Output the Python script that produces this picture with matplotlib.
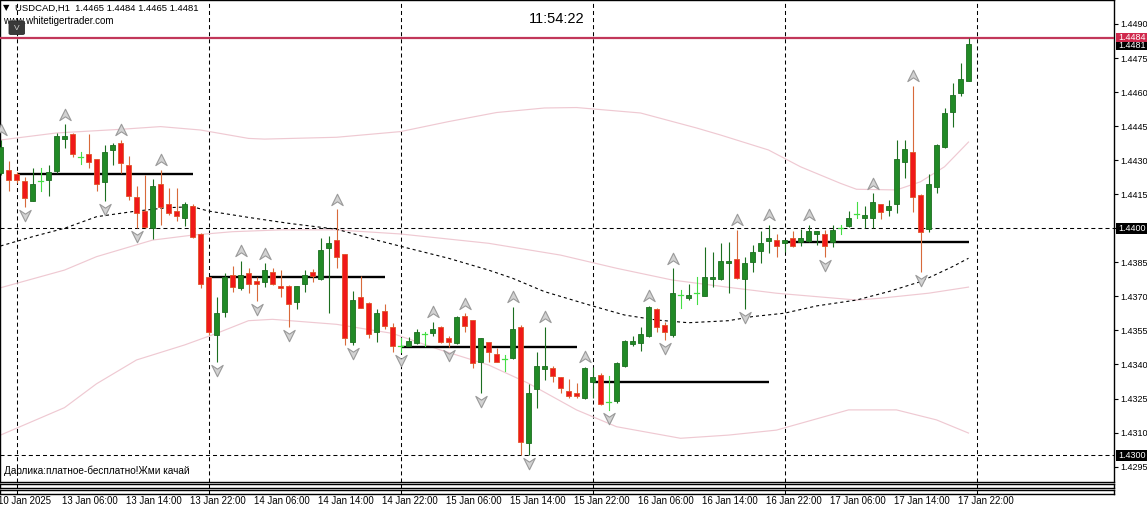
import matplotlib
matplotlib.use('Agg')
import matplotlib.pyplot as plt
import matplotlib.transforms as mtransforms
from matplotlib.path import Path
from matplotlib.patches import Rectangle, FancyBboxPatch
from matplotlib import font_manager

# ---------------- data ----------------
symbol_header = "USDCAD,H1  1.4465 1.4484 1.4465 1.4481"
site_text = "www.whitetigertrader.com"
clock_text = "11:54:22"
bottom_text = "Дарлика:платное-бесплатно!Жми качай"

opens = [1.44245, 1.44257, 1.44239, 1.44208, 1.44122, 1.44210, 1.44213, 1.44252, 1.44395, 1.44415,
         1.44315, 1.44327, 1.44304, 1.44205, 1.44345, 1.44377, 1.44279, 1.44137, 1.44076, 1.44003,
         1.44195, 1.44107, 1.44076, 1.44044, 1.44098, 1.43975, 1.43784, 1.43530, 1.43633, 1.43794,
         1.43736, 1.43805, 1.43768, 1.43765, 1.43806, 1.43746, 1.43746, 1.43674, 1.43753, 1.43809,
         1.43775, 1.43915, 1.43948, 1.43885, 1.43500, 1.43696, 1.43670, 1.43542, 1.43636, 1.43567,
         1.43483, 1.43483, 1.43493, 1.43534, 1.43540, 1.43567, 1.43518, 1.43493, 1.43614, 1.43596,
         1.43412, 1.43500, 1.43446, 1.43423, 1.43430, 1.43567, 1.43053, 1.43292, 1.43380, 1.43383,
         1.43344, 1.43283, 1.43276, 1.43251, 1.43322, 1.43354, 1.43236, 1.43239, 1.43393, 1.43490,
         1.43493, 1.43526, 1.43644, 1.43574, 1.43530, 1.43706, 1.43694, 1.43714, 1.43703, 1.43775,
         1.43775, 1.43846, 1.43863, 1.43775, 1.43853, 1.43901, 1.43945, 1.43948, 1.43934, 1.43956,
         1.43938, 1.43944, 1.43974, 1.43975, 1.43938, 1.44000, 1.44010, 1.44062, 1.44044, 1.44044,
         1.44106, 1.44081, 1.44106, 1.44293, 1.44335, 1.44147, 1.43996, 1.44183, 1.44357, 1.44514,
         1.44595, 1.44650]
highs = [1.44389, 1.44296, 1.44248, 1.44225, 1.44264, 1.44266, 1.44279, 1.44419, 1.44459, 1.44419,
         1.44337, 1.44415, 1.44305, 1.44367, 1.44374, 1.44389, 1.44319, 1.44186, 1.44235, 1.44217,
         1.44257, 1.44176, 1.44176, 1.44117, 1.44106, 1.43978, 1.43787, 1.43699, 1.43804, 1.43834,
         1.43856, 1.43824, 1.43787, 1.43846, 1.43824, 1.43816, 1.43750, 1.43746, 1.43816, 1.43819,
         1.43956, 1.43966, 1.44084, 1.43885, 1.43724, 1.43791, 1.43677, 1.43643, 1.43667, 1.43584,
         1.43515, 1.43522, 1.43555, 1.43544, 1.43589, 1.43570, 1.43527, 1.43614, 1.43626, 1.43596,
         1.43515, 1.43500, 1.43471, 1.43442, 1.43655, 1.43574, 1.43314, 1.43456, 1.43567, 1.43393,
         1.43347, 1.43336, 1.43317, 1.43390, 1.43390, 1.43361, 1.43351, 1.43412, 1.43506, 1.43527,
         1.43567, 1.43658, 1.43647, 1.43589, 1.43824, 1.43728, 1.43753, 1.43784, 1.43919, 1.43897,
         1.43937, 1.43941, 1.43993, 1.43875, 1.43926, 1.43989, 1.44015, 1.43975, 1.43950, 1.43989,
         1.43996, 1.44015, 1.43990, 1.43993, 1.44015, 1.44015, 1.44076, 1.44117, 1.44098, 1.44154,
         1.44106, 1.44125, 1.44389, 1.44389, 1.44627, 1.44150, 1.44238, 1.44370, 1.44529, 1.44641,
         1.44730, 1.44840]
lows = [1.44235, 1.44166, 1.44200, 1.44095, 1.44120, 1.44166, 1.44144, 1.44242, 1.44355, 1.44315,
        1.44283, 1.44264, 1.44166, 1.44120, 1.44279, 1.44245, 1.44125, 1.44001, 1.44000, 1.43952,
        1.44015, 1.44059, 1.44033, 1.44010, 1.43956, 1.43736, 1.43530, 1.43412, 1.43611, 1.43721,
        1.43730, 1.43714, 1.43681, 1.43743, 1.43750, 1.43696, 1.43567, 1.43643, 1.43721, 1.43765,
        1.43772, 1.43626, 1.43824, 1.43486, 1.43486, 1.43648, 1.43515, 1.43500, 1.43555, 1.43454,
        1.43454, 1.43480, 1.43490, 1.43483, 1.43527, 1.43496, 1.43478, 1.43490, 1.43542, 1.43383,
        1.43273, 1.43412, 1.43410, 1.43373, 1.43423, 1.43001, 1.43001, 1.43210, 1.43332, 1.43322,
        1.43273, 1.43251, 1.43251, 1.43248, 1.43251, 1.43222, 1.43200, 1.43232, 1.43390, 1.43483,
        1.43461, 1.43523, 1.43542, 1.43508, 1.43523, 1.43649, 1.43684, 1.43665, 1.43700, 1.43743,
        1.43772, 1.43714, 1.43775, 1.43644, 1.43806, 1.43846, 1.43893, 1.43875, 1.43897, 1.43919,
        1.43922, 1.43941, 1.43926, 1.43875, 1.43916, 1.43975, 1.44007, 1.44044, 1.44003, 1.44003,
        1.44041, 1.44056, 1.44066, 1.44223, 1.44073, 1.43806, 1.43985, 1.44154, 1.44355, 1.44445,
        1.44584, 1.44650]
closes = [1.44360, 1.44213, 1.44213, 1.44135, 1.44195, 1.44210, 1.44247, 1.44407, 1.44407, 1.44326,
          1.44315, 1.44293, 1.44194, 1.44337, 1.44367, 1.44286, 1.44144, 1.44066, 1.44007, 1.44186,
          1.44095, 1.44066, 1.44056, 1.44107, 1.43963, 1.43753, 1.43542, 1.43628, 1.43784, 1.43743,
          1.43794, 1.43755, 1.43753, 1.43816, 1.43753, 1.43736, 1.43665, 1.43746, 1.43794, 1.43790,
          1.43904, 1.43937, 1.43875, 1.43515, 1.43684, 1.43650, 1.43533, 1.43626, 1.43571, 1.43483,
          1.43483, 1.43504, 1.43544, 1.43534, 1.43556, 1.43500, 1.43500, 1.43608, 1.43571, 1.43405,
          1.43515, 1.43455, 1.43412, 1.43423, 1.43555, 1.43060, 1.43273, 1.43393, 1.43393, 1.43351,
          1.43295, 1.43263, 1.43263, 1.43383, 1.43344, 1.43225, 1.43236, 1.43405, 1.43504, 1.43504,
          1.43534, 1.43655, 1.43564, 1.43542, 1.43714, 1.43706, 1.43706, 1.43714, 1.43784, 1.43784,
          1.43856, 1.43856, 1.43780, 1.43846, 1.43894, 1.43934, 1.43956, 1.43923, 1.43948, 1.43922,
          1.43956, 1.43988, 1.43988, 1.43923, 1.43993, 1.44000, 1.44044, 1.44062, 1.44059, 1.44115,
          1.44073, 1.44098, 1.44304, 1.44349, 1.44137, 1.43985, 1.44195, 1.44367, 1.44509, 1.44587,
          1.44656, 1.44810]

# fractal bars (index of bar)
fractal_up = [0, 8, 15, 20, 30, 33, 42, 54, 58, 64, 68, 73, 81, 84, 92, 96, 101, 109, 114]
fractal_down = [3, 13, 17, 27, 32, 36, 44, 50, 56, 60, 66, 76, 83, 93, 103, 115]

# moving average (dashed) read at bar indices
ma_x = [0, 4, 8, 12, 17, 21, 24, 26, 31, 36, 42, 47, 51, 56, 61, 64, 68, 74, 78, 82, 86, 91, 94, 98, 102, 107, 111, 115, 119, 121]
ma_y = [1.43922, 1.43963, 1.44000, 1.44051, 1.44076, 1.44091, 1.44095, 1.44076, 1.44048, 1.44022,
        1.43996, 1.43948, 1.43912, 1.43868, 1.43816, 1.43780, 1.43721, 1.43658, 1.43618, 1.43596,
        1.43584, 1.43593, 1.43611, 1.43626, 1.43658, 1.43684, 1.43721, 1.43765, 1.43831, 1.43868]

# Bollinger bands read at bar indices
bb_up_x = [0, 7, 15, 20, 25, 31, 33, 42, 50, 56, 62, 68, 72, 80, 87, 90, 96, 100, 105, 107, 112, 115, 118, 121]
bb_up_y = [1.44389, 1.44420, 1.44436, 1.44448, 1.44433, 1.44396, 1.44393, 1.44401, 1.44426, 1.44470,
           1.44510, 1.44530, 1.44532, 1.44508, 1.44442, 1.44411, 1.44345, 1.44271, 1.44198, 1.44172,
           1.44169, 1.44205, 1.44271, 1.44380]
bb_mid_x = [0, 8, 12, 19, 24, 29, 35, 42, 50, 61, 70, 77, 84, 91, 97, 107, 110, 116, 121]
bb_mid_y = [1.43738, 1.43816, 1.43875, 1.43948, 1.43970, 1.43985, 1.43993, 1.43993, 1.43975, 1.43934,
            1.43882, 1.43824, 1.43772, 1.43740, 1.43714, 1.43684, 1.43692, 1.43714, 1.43741]
bb_lo_x = [0, 8, 12, 17, 23, 27, 31, 34, 42, 49, 55, 61, 66, 72, 77, 85, 91, 97, 106, 112, 117, 121]
bb_lo_y = [1.43089, 1.43210, 1.43315, 1.43420, 1.43486, 1.43537, 1.43593, 1.43599, 1.43577, 1.43537,
           1.43464, 1.43398, 1.43317, 1.43200, 1.43126, 1.43075, 1.43089, 1.43111, 1.43200, 1.43200,
           1.43156, 1.43098]

# daily open levels: (start bar, end bar, price)
day_start = [2, 26, 50, 74, 98]
day_end = [24, 48, 72, 96, 121]
day_open = [1.44240, 1.43786, 1.43478, 1.43324, 1.43938]

# horizontal lines
red_level = 1.4484
bid_level = 1.4481
dash_levels = [1.4400, 1.4300]

# price axis
price_ticks = [1.4490, 1.4475, 1.4460, 1.4445, 1.4430, 1.4415, 1.4400, 1.4385, 1.4370,
               1.4355, 1.4340, 1.4325, 1.4310, 1.4295]

# time axis
time_label_bars = [0, 8, 16, 24, 32, 40, 48, 56, 64, 72, 80, 88, 96, 104, 112, 120]
time_labels = ["10 Jan 2025", "13 Jan 06:00", "13 Jan 14:00", "13 Jan 22:00", "14 Jan 06:00",
               "14 Jan 14:00", "14 Jan 22:00", "15 Jan 06:00", "15 Jan 14:00", "15 Jan 22:00",
               "16 Jan 06:00", "16 Jan 14:00", "16 Jan 22:00", "17 Jan 06:00", "17 Jan 14:00",
               "17 Jan 22:00"]

# ---------------- styling ----------------
plt.rcParams['lines.scale_dashes'] = False
avail = {f.name for f in font_manager.fontManager.ttflist}
MAIN_FONT = ['Liberation Sans', 'DejaVu Sans']
NARROW_FONT = ['Liberation Sans Narrow', 'Liberation Sans', 'DejaVu Sans'] if 'Liberation Sans Narrow' in avail else MAIN_FONT
plt.rcParams['font.family'] = MAIN_FONT

BULL = '#218a26'
BULL_EDGE = '#1c6e20'
BEAR = '#f01818'
BEAR_EDGE = '#e0542a'
BEAR_WICK = '#d86a3a'
DOJI = '#44dd44'
PINK = '#efc9d2'
FRACTAL_EDGE = '#9a9a9a'
FRACTAL_FACE = '#d2d2d2'

W, H = 1147, 513
fig = plt.figure(figsize=(W / 100, H / 100), dpi=100)
fig.patch.set_facecolor('white')

def fx(px):
    return px / W

def fy(py):
    return 1 - py / H

PLOT_RIGHT = 1114
PLOT_BOTTOM = 482
ax = fig.add_axes([fx(0), fy(PLOT_BOTTOM), fx(PLOT_RIGHT), PLOT_BOTTOM / H])
ax.set_facecolor('white')

PX_PER_PRICE = 22700.0
y_top = 1.4490 + 24 / PX_PER_PRICE
y_bot = 1.4490 - (PLOT_BOTTOM - 24) / PX_PER_PRICE
ax.set_ylim(y_bot, y_top)
ax.set_xlim(-0.5 / 8, (PLOT_RIGHT - 0.5) / 8)
ppx = 1 / PX_PER_PRICE  # price per pixel

DASH = (0, (2.9, 2.2))

# vertical day separators
for d in day_start + [122]:
    ax.axvline(d, color='black', lw=0.75, ls=DASH, zorder=1)
# horizontal dashed levels
for lv in dash_levels:
    ax.axhline(lv, color='black', lw=0.75, ls=DASH, zorder=1)

# bollinger bands
ax.plot(bb_up_x, bb_up_y, color=PINK, lw=0.85, zorder=2)
ax.plot(bb_mid_x, bb_mid_y, color=PINK, lw=0.85, zorder=2)
ax.plot(bb_lo_x, bb_lo_y, color=PINK, lw=0.85, zorder=2)
# moving average
ax.plot(ma_x, ma_y, color='black', lw=0.8, ls=(0, (2.2, 2.2)), zorder=2)

# red level
ax.axhline(red_level, color='#c2375a', lw=1.6, zorder=3)

# daily open levels
for s, e, v in zip(day_start, day_end, day_open):
    ax.plot([s, e], [v, v], color='black', lw=1.7, solid_capstyle='butt', zorder=4)

# candles
BW = 0.66
for i, (o, h, l, c) in enumerate(zip(opens, highs, lows, closes)):
    if abs(c - o) < 1e-7:
        ax.plot([i, i], [l, h], color=DOJI, lw=0.8, zorder=5)
        ax.plot([i - BW / 2, i + BW / 2], [o, o], color=DOJI, lw=0.9, zorder=5)
        continue
    bull = c > o
    wick = BULL_EDGE if bull else BEAR_WICK
    ax.plot([i, i], [l, h], color=wick, lw=0.8, zorder=5, solid_capstyle='butt')
    ax.bar(i, abs(c - o), bottom=min(o, c), width=BW,
           color=BULL if bull else BEAR, edgecolor=BULL_EDGE if bull else BEAR_EDGE,
           linewidth=0.6, zorder=6)

# fractal markers
up_marker = Path([(0, 0.55), (0.5, -0.45), (0, -0.12), (-0.5, -0.45), (0, 0.55)],
                 [Path.MOVETO, Path.LINETO, Path.LINETO, Path.LINETO, Path.CLOSEPOLY])
down_marker = Path([(0, -0.55), (0.5, 0.45), (0, 0.12), (-0.5, 0.45), (0, -0.55)],
                   [Path.MOVETO, Path.LINETO, Path.LINETO, Path.LINETO, Path.CLOSEPOLY])
ax.plot(fractal_up, [highs[i] + 9.5 * ppx for i in fractal_up], ls='none', marker=up_marker,
        ms=9, mfc=FRACTAL_FACE, mec=FRACTAL_EDGE, mew=0.8, zorder=7)
ax.plot(fractal_down, [lows[i] - 8 * ppx for i in fractal_down], ls='none', marker=down_marker,
        ms=9, mfc=FRACTAL_FACE, mec=FRACTAL_EDGE, mew=0.8, zorder=7)

# axes frame and ticks
for sp in ax.spines.values():
    sp.set_color('black')
    sp.set_linewidth(1.0)
ax.set_xticks([])
ax.yaxis.set_ticks_position('right')
ax.set_yticks(price_ticks)
# the 1.4400 tick label is covered by the level box, so leave it empty
ax.set_yticklabels(["" if abs(v - 1.4400) < 1e-9 else f"{v:.4f}" for v in price_ticks])
ax.tick_params(axis='y', direction='out', length=3, width=0.8, pad=1.5, labelsize=6.5, colors='black')
for t in ax.get_yticklabels():
    t.set_fontfamily(MAIN_FONT)

# right-side price boxes
box_tr = mtransforms.blended_transform_factory(fig.transFigure, ax.transData)
def price_box(val, face, y_shift_px=0, h_px=10.5):
    yc = val - y_shift_px * ppx
    r = Rectangle((fx(1116), yc - h_px / 2 * ppx), fx(31), h_px * ppx, transform=box_tr,
                  facecolor=face, edgecolor='none', clip_on=False, zorder=20)
    fig.add_artist(r)
    fig.text(fx(1118), yc, f"{val:.4f}", transform=box_tr, color='white', fontsize=6.5,
             va='center', ha='left', zorder=21, family=MAIN_FONT)

price_box(1.4400, 'black')
price_box(1.4300, 'black')
price_box(bid_level, 'black', y_shift_px=1.5, h_px=9)
price_box(red_level, '#d0284c', h_px=9.5)

# sub-windows under the main chart
for (t, b) in [(484, 487.5), (489.5, 493.5)]:
    sub = fig.add_axes([fx(0), fy(b), fx(PLOT_RIGHT), (b - t) / H])
    sub.set_xlim(ax.get_xlim())
    sub.set_xticks([]); sub.set_yticks([])
    for sp in sub.spines.values():
        sp.set_color('black'); sp.set_linewidth(1.0)
    for d in day_start + [122]:
        sub.axvline(d, color='black', lw=0.75, ls=DASH)

# time labels
time_tr = mtransforms.blended_transform_factory(ax.transData, fig.transFigure)
for b, lab in zip(time_label_bars, time_labels):
    fig.text(b - 0.25, fy(501), lab, transform=time_tr, fontsize=6.9, va='center', ha='left',
             family=NARROW_FONT, color='black')

# header texts
fig.text(fx(3), fy(8), "\u25bc", fontsize=6, va='center', ha='left', family=['DejaVu Sans'])
fig.text(fx(15), fy(8), symbol_header, fontsize=6.8, va='center', ha='left', family=MAIN_FONT)
fig.text(fx(3), fy(21.5), site_text, fontsize=7, va='center', ha='left', family=MAIN_FONT)
icon = FancyBboxPatch((fx(9), fy(34.5)), fx(15.5), 13.5 / H,
                      boxstyle='round,pad=0,rounding_size=0.002', transform=fig.transFigure,
                      facecolor='#3a3a3a', edgecolor='#2a2a2a', lw=0.6, zorder=30)
fig.add_artist(icon)
fig.text(fx(16.8), fy(28), "V", fontsize=6, color='#cfcfcf', va='center', ha='center',
         family=MAIN_FONT, zorder=31)
fig.text(fx(557), fy(19), clock_text, fontsize=10.5, va='center', ha='center', family=MAIN_FONT)
fig.text(fx(4), fy(470.5), bottom_text, fontsize=7.2, va='center', ha='left', family=MAIN_FONT)

fig.savefig('out.png', dpi=100, facecolor='white')
